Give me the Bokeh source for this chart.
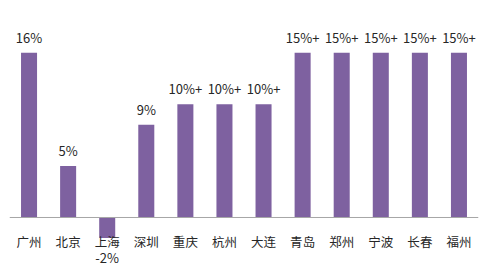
from bokeh.plotting import figure
from bokeh.models import ColumnDataSource, FactorRange, Span
from bokeh.core.properties import value
from bokeh.embed import file_html
from bokeh.resources import INLINE

# City growth figures
cities = ["广州", "北京", "上海", "深圳", "重庆", "杭州", "大连", "青岛", "郑州", "宁波", "长春", "福州"]
values = [16, 5, -2, 9, 11, 11, 11, 16, 16, 16, 16, 16]
labels = ["16%", "5%", "-2%", "9%", "10%+", "10%+", "10%+", "15%+", "15%+", "15%+", "15%+", "15%+"]

FONT = value("Noto Sans CJK SC")
TEXT_COLOR = "#262626"

pos_cities = [c for c, v in zip(cities, values) if v >= 0]
pos_vals = [v for v in values if v >= 0]
pos_labels = [l for l, v in zip(labels, values) if v >= 0]
neg_cities = [c for c, v in zip(cities, values) if v < 0]
neg_labels = [l for l, v in zip(labels, values) if v < 0]

src = ColumnDataSource(dict(city=cities, val=values, zero=[0] * len(cities)))
pos_src = ColumnDataSource(dict(city=pos_cities, val=pos_vals, label=pos_labels))
neg_src = ColumnDataSource(dict(city=neg_cities, zero=[0] * len(neg_cities), label=neg_labels))

p = figure(
    x_range=FactorRange(*cities, range_padding=0),
    y_range=(-5.05, 21.07),
    width=483, height=269,
    output_backend="svg", toolbar_location=None,
    min_border_left=9, min_border_right=5, min_border_top=0, min_border_bottom=0,
)
p.axis.visible = False
p.grid.visible = False
p.outline_line_color = None
p.background_fill_color = "white"

p.vbar(x="city", top="val", bottom=0, width=0.41, source=src,
       fill_color="#7E61A0", line_color=None)

p.add_layout(Span(location=0, dimension="width", line_color="#A6A6A6", line_width=1))

# value labels above the positive bars
p.text(x="city", y="val", text="label", source=pos_src,
       text_align="center", text_baseline="bottom", y_offset=-6,
       text_font=FONT, text_font_size="13px", text_color=TEXT_COLOR)

# city names under the baseline
p.text(x="city", y="zero", text="city", source=src,
       text_align="center", text_baseline="middle", y_offset=24,
       text_font=FONT, text_font_size="12.5px", text_color=TEXT_COLOR)

# negative value labels sit under the city name
p.text(x="city", y="zero", text="label", source=neg_src,
       text_align="center", text_baseline="middle", y_offset=40,
       text_font=FONT, text_font_size="13px", text_color=TEXT_COLOR)

open("out.html", "w").write(file_html(p, INLINE))
